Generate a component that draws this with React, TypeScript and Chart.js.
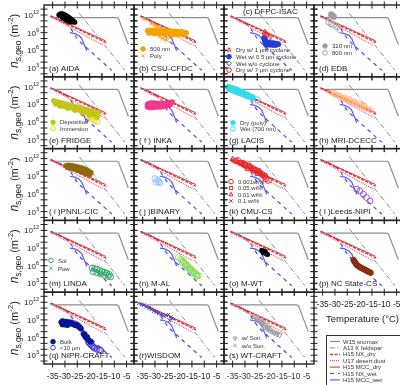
import React, { useEffect, useRef } from 'react';
import { Chart, registerables } from 'chart.js';
import { drawPoint } from 'chart.js/helpers';

Chart.register(...registerables);

const FONT = '"Liberation Sans", Arial, Helvetica, sans-serif';

// Axis ranges shared by every panel
const T_MIN = -38.5;
const T_MAX = -2;
const LOG_MIN = 1.5;
const LOG_MAX = 13.7;
const X_TICKS = [-35, -30, -25, -20, -15, -10, -5];
const Y_DECADES = [2, 3, 4, 5, 6, 7, 8, 9, 10, 11, 12, 13];
const Y_LABELED = [3, 6, 9, 12];

// Reference parameterisations (temperature in °C, log10 ns in m^-2)
const snomaxT = [-35.8, -9.0, -8.3, -4.3];
const snomaxLog = [11.55, 11.55, 11.4, 7.0];
const feldsparT = [-24.2, -5.7];
const feldsparLog = [12.3, 2.6];
const nxDryT = [-35.8, -13.3];
const nxDryLog = [11.8, 7.3];
const u17T = [-35.8, -14.8];
const u17Log = [11.7, 6.9];
const mccDryT = [-35.8, -13.5];
const mccDryLog = [11.85, 7.6];
const nxWetT = [-35.8, -33, -31, -29, -27.5, -26, -24.5, -22.5, -20, -17.5, -15, -13, -11];
const nxWetLog = [11.8, 11.4, 10.9, 10.4, 9.6, 8.6, 7.7, 6.9, 6.0, 5.0, 4.1, 3.3, 2.6];
const mccWetT = [-28, -26, -24.3, -23.2, -22.5, -21.8, -21.2];
const mccWetLog = [9.0, 8.85, 8.5, 8.0, 7.3, 6.6, 5.9];

// Instrument data
const aidaT = [-32.5, -32, -31.5, -31, -30.5, -30, -29.5, -29, -28.5, -28, -27.5, -27, -26.5, -26, -31.8, -31.2, -30.6, -30, -29.4, -28.8, -28.2, -27.6, -27, -30.8, -29.8, -28.8, -27.8];
const aidaLog = [12.0, 12.15, 12.2, 12.2, 12.1, 12.0, 11.9, 11.75, 11.6, 11.45, 11.3, 11.1, 10.95, 10.75, 11.85, 11.75, 11.65, 11.5, 11.4, 11.25, 11.1, 10.95, 10.8, 11.45, 11.2, 11.0, 10.8];

const csu500T = [-33, -32, -31, -30, -29, -28, -27, -26, -25, -24, -23, -22, -21, -20, -19, -18, -17.3, -32.5, -31.5, -30.5, -29.5, -28.5, -27.5, -26.5, -25.5, -24.5, -23.5, -22.5, -21.5, -20.5, -19.5, -18.5];
const csu500Log = [9.35, 9.4, 9.35, 9.4, 9.3, 9.35, 9.3, 9.3, 9.25, 9.3, 9.2, 9.25, 9.2, 9.15, 9.1, 9.0, 8.95, 8.95, 9.0, 8.9, 8.95, 8.9, 8.9, 8.85, 8.9, 8.85, 8.8, 8.85, 8.8, 8.75, 8.8, 8.7];
const csuPolyT = [-34.5, -31.5, -30.5, -29.5, -28.5, -28, -27, -26, -25, -24, -27.5, -26.5, -25.5, -23, -22, -30, -29];
const csuPolyLog = [11.3, 10.5, 10.4, 10.0, 9.8, 8.3, 8.0, 7.8, 7.7, 8.2, 9.7, 8.4, 9.6, 8.3, 8.5, 10.2, 8.6];

const dfpcDry1T = [-22, -21.2];
const dfpcDry1Log = [9.1, 8.7];
const dfpcWet05T = [-22.2, -22, -21.8, -21.5, -21, -20.5, -20, -19.5, -19, -18.5, -18, -17.5, -17, -16.5, -21.5, -20.5, -19.5, -18.5, -17.5];
const dfpcWet05Log = [8.1, 7.8, 7.5, 7.4, 7.3, 7.3, 7.25, 7.2, 7.2, 7.15, 7.15, 7.1, 7.1, 7.05, 7.0, 6.95, 6.95, 6.9, 6.9];
const dfpcWetNoT = [-21.6];
const dfpcWetNoLog = [7.0];
const dfpcDry7T = [-21.5, -20.6];
const dfpcDry7Log = [8.5, 8.2];

const edb320T = [-31.5, -31, -30.5];
const edb320Log = [12.1, 11.9, 11.7];
const edb800T = [-32.5, -31.5, -30.5, -29.2, -28];
const edb800Log = [10.8, 10.5, 10.3, 10.0, 9.5];

const fridgeDepT = [-34.5, -33, -31.5, -30, -28.5, -27, -25.5, -24, -22.5, -21, -19.5, -18, -16.5, -33.75, -32.25, -30.75, -29.25, -27.75, -26.25, -24.75, -23.25, -21.75, -20.25, -18.75, -17.25, -32, -29, -26, -23, -20, -17];
const fridgeDepLog = [9.6, 9.43, 9.26, 9.09, 8.92, 8.75, 8.58, 8.41, 8.24, 8.07, 7.9, 7.73, 7.57, 9.1, 8.95, 8.8, 8.6, 8.45, 8.25, 8.1, 7.95, 7.75, 7.6, 7.4, 7.25, 8.75, 8.4, 8.05, 7.65, 7.2, 6.9];
const fridgeImmT = [-21.5, -20.5, -19.5, -19, -18, -17.5, -17, -20, -18.5];
const fridgeImmLog = [7.9, 7.4, 7.0, 6.6, 6.3, 6.8, 6.1, 6.9, 7.4];

const inkaT = [-33, -32.5, -32, -31.5, -31, -30.5, -30, -29, -28, -27, -26, -25, -24, -23, -33, -32, -31, -30, -29, -28, -27, -26, -25, -24, -32.5, -31.5, -30.5];
const inkaLog = [9.0, 9.1, 9.15, 9.2, 9.2, 9.2, 9.2, 9.15, 9.15, 9.1, 9.1, 9.2, 9.3, 9.4, 8.6, 8.5, 8.5, 8.55, 8.6, 8.6, 8.65, 8.7, 8.8, 8.9, 8.8, 8.8, 8.85];

const lacisDryT = [-37, -36.5, -36, -35.5, -35, -34.5, -34, -33.5, -33, -32.5, -32, -31.5, -31, -30.5, -30, -29.5, -29, -28.5, -28, -27.5, -27, -36.5, -35.5, -34.5, -33.5, -32.5, -31.5, -30.5, -29.5, -28.5];
const lacisDryLog = [12.0, 11.95, 11.9, 11.8, 11.75, 11.7, 11.6, 11.5, 11.4, 11.3, 11.2, 11.1, 11.0, 10.9, 10.8, 10.7, 10.6, 10.5, 10.4, 10.3, 10.2, 11.6, 11.45, 11.3, 11.1, 10.95, 10.8, 10.65, 10.45, 10.3];
const lacisWetT = [-33, -31, -29, -27, -25];
const lacisWetLog = [11.4, 11.0, 10.6, 10.2, 9.8];

const mriT = [-31.5, -30.5, -29.5, -28.5, -27.5, -26.5, -25.5, -24.5, -23.5, -22.5, -21.5, -20.5, -19.5, -18.5, -17.5, -16.5, -15.5, -30, -28, -26, -24, -22, -20, -18];
const mriLog = [11.0, 10.8, 10.6, 10.4, 10.2, 10.0, 9.85, 9.7, 9.5, 9.3, 9.1, 8.9, 8.75, 8.55, 8.35, 8.2, 8.0, 10.9, 10.5, 10.2, 9.9, 9.5, 9.2, 8.8];

const pnnlT = [-29.5, -28.5, -27.5, -26.5, -25.5, -24.5, -23.5, -22.5, -21.5, -20.5, -19.5, -29, -28, -27, -26, -25, -24, -23, -22, -21, -20, -28, -26, -24, -22];
const pnnlLog = [10.8, 10.85, 10.8, 10.75, 10.65, 10.55, 10.45, 10.3, 10.1, 9.9, 9.65, 10.5, 10.4, 10.3, 10.2, 10.1, 9.95, 9.8, 9.6, 9.45, 9.3, 10.6, 10.45, 10.2, 9.9];

const binaryT = [-30, -29, -28.5, -28, -29.5];
const binaryLog = [8.6, 8.4, 8.1, 7.9, 8.0];

const cmu0001T = [-33, -31, -29, -27, -25, -23, -21.5, -20.5, -30, -26, -22];
const cmu0001Log = [11.7, 11.2, 10.8, 10.3, 9.9, 9.3, 8.6, 8.3, 10.9, 10.0, 9.0];
const cmu005T = [-34, -32, -30, -28, -26, -24, -22, -29, -25];
const cmu005Log = [11.6, 11.3, 10.9, 10.6, 10.1, 9.6, 9.1, 10.3, 9.5];
const cmu001T = [-35, -33, -31, -29, -27, -25, -23, -28, -24];
const cmu001Log = [11.9, 11.5, 11.1, 10.7, 10.2, 9.8, 9.4, 10.8, 9.9];
const cmu01T = [-34.5, -32.5, -30.5, -28.5, -26.5, -24.5, -22.5, -31, -27];
const cmu01Log = [11.7, 11.4, 11.0, 10.5, 10.3, 9.7, 9.2, 11.3, 10.6];

const leedsT = [-21.2, -19.9, -18.5, -17.2, -15.8];
const leedsLog = [6.8, 6.5, 5.95, 5.4, 4.8];

const lindaSolT = [-19, -18, -17, -16, -15, -14, -13, -12, -18.5, -17, -15.5, -14, -12.5, -11.5];
const lindaSolLog = [5.6, 5.5, 5.4, 5.2, 5.0, 4.9, 4.7, 4.5, 5.0, 4.8, 4.6, 4.4, 4.2, 4.1];
const lindaPowT = [-16.5, -14.5];
const lindaPowLog = [5.1, 4.7];

const malT = [-20.5, -19.5, -18.5, -18, -17.5, -17, -16.5, -16, -15.5, -15, -14.5, -14, -13.5, -13, -12.5, -19, -17.5, -16, -14.5, -13];
const malLog = [7.4, 7.1, 6.8, 6.5, 6.3, 6.0, 5.8, 5.6, 5.4, 5.2, 5.0, 4.8, 4.6, 4.4, 4.3, 6.6, 6.0, 5.3, 4.7, 4.2];

const mwtT = [-23.2, -22.8, -22.4, -22, -21.6, -21.2, -20.8, -22.6, -21.8];
const mwtLog = [8.6, 8.5, 8.4, 8.3, 8.1, 8.0, 7.9, 8.2, 8.45];

const ncsuT = [-22.5, -22.2, -21.9, -21.6, -21.3, -21, -20.6, -20.2, -19.8, -19.4, -19, -18.5, -18, -17.5, -17, -16.5, -16, -15.5];
const ncsuLog = [7.0, 6.8, 6.6, 6.4, 6.25, 6.1, 5.95, 5.85, 5.75, 5.65, 5.55, 5.45, 5.35, 5.25, 5.1, 5.0, 4.9, 4.8];

const niprBulkT = [-31.5, -31, -30.5, -30, -29.5, -29, -28.5, -28, -27.5, -27, -26.5, -26, -25.5, -25, -24.5, -24, -23.5, -31, -30, -29, -22.5, -22, -21.5, -21, -20.5, -20, -19.5, -22, -21];
const niprBulkLog = [8.6, 8.8, 8.7, 8.6, 8.7, 8.5, 8.6, 8.4, 8.5, 8.3, 8.3, 8.1, 8.2, 8.0, 7.9, 7.7, 7.5, 8.2, 8.2, 8.1, 6.6, 6.3, 6.0, 5.8, 5.6, 5.4, 5.3, 6.6, 6.1];
const niprFineT = [-20.5, -20, -19.5, -19, -18.5, -18, -17, -16, -15.5];
const niprFineLog = [5.3, 5.0, 4.8, 4.6, 4.4, 4.2, 4.0, 3.9, 3.8];

const wisdomT = [-36.5, -35.5, -34.5, -33.5, -32.5, -31.5, -30.5, -29.5, -28.5, -27.5, -26.5, -25.5, -24.5, -23.5, -23, -24];
const wisdomLog = [11.8, 11.6, 11.5, 11.2, 11.0, 10.8, 10.5, 10.3, 10.1, 9.9, 9.7, 9.8, 9.9, 9.5, 9.2, 8.9];

const wtSonT = [-26, -25, -24, -23.5, -23, -22, -21, -20, -19, -18, -17, -16, -22.5, -21.5, -20.5];
const wtSonLog = [9.5, 9.2, 8.9, 8.5, 8.2, 7.8, 7.5, 7.2, 7.0, 6.8, 6.6, 6.4, 8.6, 8.1, 7.6];
const wtNoSonT = [-25.5, -24.5, -23, -21, -19.5, -17.5];
const wtNoSonLog = [9.0, 8.7, 8.3, 7.6, 7.1, 6.7];

// Page layout of the panel grid
const COL_X = [44, 134, 224, 314];
const ROW_Y = [5, 76.8, 148.6, 220.4, 292.2];
const PANEL_W = 90;
const PANEL_H = 71.8;
const CANVAS_W = 420;
const CANVAS_H = 385;

type Series = {
  T: number[];
  L: number[];
  color: string;
  shape: string;
  filled: boolean;
  r: number;
  rot?: number;
};
type LegendRow = { text: string; color: string; shape: string; filled: boolean; rot?: number };
type Panel = {
  title: string;
  col: number;
  row: number;
  titleTop?: boolean;
  titleDx?: number;
  series: Series[];
  legend?: LegendRow[];
  legendX?: number;
  legendY?: number;
  legendGap?: number;
};

const RED = '#e8262a';
const refLines = [
  { T: snomaxT, L: snomaxLog, color: '#8e8e8e', width: 1.2, dash: [] as number[] },
  { T: feldsparT, L: feldsparLog, color: '#8e8e8e', width: 1, dash: [5, 2, 1, 2] },
  { T: nxDryT, L: nxDryLog, color: RED, width: 1.3, dash: [3, 1.5] },
  { T: u17T, L: u17Log, color: RED, width: 1, dash: [1, 1] },
  { T: mccDryT, L: mccDryLog, color: RED, width: 1, dash: [] as number[] },
  { T: nxWetT, L: nxWetLog, color: '#4a4ae8', width: 1.2, dash: [4, 4] },
  { T: mccWetT, L: mccWetLog, color: '#5a5aff', width: 1.2, dash: [] as number[] },
];

const PANELS: Panel[] = [
  { title: '(a) AIDA', col: 0, row: 0, series: [{ T: aidaT, L: aidaLog, color: '#000', shape: 'circle', filled: true, r: 2.3 }] },
  {
    title: '(b) CSU-CFDC', col: 1, row: 0,
    series: [
      { T: csu500T, L: csu500Log, color: '#f5a300', shape: 'circle', filled: true, r: 2.5 },
      { T: csuPolyT, L: csuPolyLog, color: '#f5a300', shape: 'crossRot', filled: false, r: 2.5 },
    ],
    legend: [
      { text: '500 nm', color: '#f5a300', shape: 'circle', filled: true },
      { text: 'Poly', color: '#f5a300', shape: 'crossRot', filled: false },
    ],
    legendX: 9, legendY: 44, legendGap: 6.8,
  },
  {
    title: '(c) DFPC-ISAC', col: 2, row: 0, titleTop: true, titleDx: 19,
    series: [
      { T: dfpcDry1T, L: dfpcDry1Log, color: RED, shape: 'triangle', filled: false, r: 3 },
      { T: dfpcWet05T, L: dfpcWet05Log, color: '#1f3cd6', shape: 'circle', filled: true, r: 2.6 },
      { T: dfpcWetNoT, L: dfpcWetNoLog, color: '#4b3bd0', shape: 'rectRot', filled: false, r: 3 },
      { T: dfpcDry7T, L: dfpcDry7Log, color: RED, shape: 'circle', filled: false, r: 3 },
    ],
    legend: [
      { text: 'Dry w/ 1 µm cyclone', color: RED, shape: 'triangle', filled: false },
      { text: 'Wet w/ 0.5 µm cyclone', color: '#1f3cd6', shape: 'circle', filled: true },
      { text: 'Wet w/o cyclone', color: '#3b3bd8', shape: 'rectRot', filled: false },
      { text: 'Dry w/ 7 µm cyclone', color: RED, shape: 'circle', filled: false },
    ],
    legendX: 5, legendY: 45, legendGap: 6.7,
  },
  {
    title: '(d) EDB', col: 3, row: 0,
    series: [
      { T: edb320T, L: edb320Log, color: '#a0a0a0', shape: 'circle', filled: true, r: 3 },
      { T: edb800T, L: edb800Log, color: '#a8a8a8', shape: 'circle', filled: false, r: 3 },
    ],
    legend: [
      { text: '320 nm', color: '#a0a0a0', shape: 'circle', filled: true },
      { text: '800 nm', color: '#a8a8a8', shape: 'circle', filled: false },
    ],
    legendX: 11, legendY: 41, legendGap: 6.8,
  },
  {
    title: '(e) FRIDGE', col: 0, row: 1,
    series: [
      { T: fridgeDepT, L: fridgeDepLog, color: '#c6c41a', shape: 'circle', filled: true, r: 2.6 },
      { T: fridgeImmT, L: fridgeImmLog, color: '#e3e000', shape: 'circle', filled: false, r: 3 },
    ],
    legend: [
      { text: 'Deposition', color: '#c6c41a', shape: 'circle', filled: true },
      { text: 'Immersion', color: '#e3e000', shape: 'circle', filled: false },
    ],
    legendX: 9, legendY: 45.5, legendGap: 6.5,
  },
  { title: '( f ) INKA', col: 1, row: 1, series: [{ T: inkaT, L: inkaLog, color: '#f2388f', shape: 'circle', filled: true, r: 2.6 }] },
  {
    title: '(g) LACIS', col: 2, row: 1,
    series: [
      { T: lacisDryT, L: lacisDryLog, color: '#35dbe8', shape: 'circle', filled: true, r: 2.6 },
      { T: lacisWetT, L: lacisWetLog, color: '#35dbe8', shape: 'circle', filled: false, r: 3 },
    ],
    legend: [
      { text: 'Dry (poly)', color: '#35dbe8', shape: 'circle', filled: true },
      { text: 'Wet (700 nm)', color: '#35dbe8', shape: 'circle', filled: false },
    ],
    legendX: 9, legendY: 46, legendGap: 6,
  },
  { title: '(h) MRI-DCECC', col: 3, row: 1, series: [{ T: mriT, L: mriLog, color: '#ffb482', shape: 'circle', filled: false, r: 2.5 }] },
  { title: '( i )PNNL-CIC', col: 0, row: 2, series: [{ T: pnnlT, L: pnnlLog, color: '#8f6a0c', shape: 'circle', filled: true, r: 2.5 }] },
  { title: '( j )BINARY', col: 1, row: 2, series: [{ T: binaryT, L: binaryLog, color: '#8cc4ff', shape: 'circle', filled: false, r: 3 }] },
  {
    title: '(k) CMU-CS', col: 2, row: 2,
    series: [
      { T: cmu0001T, L: cmu0001Log, color: RED, shape: 'circle', filled: false, r: 3 },
      { T: cmu005T, L: cmu005Log, color: RED, shape: 'rect', filled: false, r: 3 },
      { T: cmu001T, L: cmu001Log, color: RED, shape: 'triangle', filled: false, r: 3 },
      { T: cmu01T, L: cmu01Log, color: RED, shape: 'crossRot', filled: false, r: 3 },
    ],
    legend: [
      { text: '0.001wt%', color: RED, shape: 'circle', filled: false },
      { text: '0.05 wt%', color: RED, shape: 'rect', filled: false },
      { text: '0.01 wt%', color: RED, shape: 'triangle', filled: false },
      { text: '0.1 wt%', color: RED, shape: 'crossRot', filled: false },
    ],
    legendX: 7, legendY: 33, legendGap: 6.5,
  },
  { title: '( l )Leeds-NIPI', col: 3, row: 2, series: [{ T: leedsT, L: leedsLog, color: '#9a5ad6', shape: 'circle', filled: false, r: 3 }] },
  {
    title: '(m) LINDA', col: 0, row: 3,
    series: [
      { T: lindaSolT, L: lindaSolLog, color: '#2fa868', shape: 'circle', filled: false, r: 3 },
      { T: lindaPowT, L: lindaPowLog, color: '#2fa868', shape: 'crossRot', filled: false, r: 3 },
    ],
    legend: [
      { text: 'Sol', color: '#2fa868', shape: 'circle', filled: false },
      { text: 'Pow', color: '#2fa868', shape: 'crossRot', filled: false },
    ],
    legendX: 7, legendY: 40, legendGap: 8,
  },
  { title: '(n) M-AL', col: 1, row: 3, series: [{ T: malT, L: malLog, color: '#8fdc5a', shape: 'circle', filled: false, r: 3 }] },
  { title: '(o) M-WT', col: 2, row: 3, series: [{ T: mwtT, L: mwtLog, color: '#000', shape: 'circle', filled: true, r: 2.3 }] },
  { title: '(p) NC State-CS', col: 3, row: 3, series: [{ T: ncsuT, L: ncsuLog, color: '#8a2f10', shape: 'circle', filled: true, r: 2.8 }] },
  {
    title: '(q) NIPR-CRAFT', col: 0, row: 4,
    series: [
      { T: niprBulkT, L: niprBulkLog, color: '#0a1496', shape: 'circle', filled: true, r: 2.6 },
      { T: niprFineT, L: niprFineLog, color: '#3a3ad2', shape: 'circle', filled: false, r: 3 },
    ],
    legend: [
      { text: 'Bulk', color: '#0a1496', shape: 'circle', filled: true },
      { text: '<10 µm', color: '#3a3ad2', shape: 'circle', filled: false },
    ],
    legendX: 9, legendY: 49.5, legendGap: 6,
  },
  { title: '(r)WISDOM', col: 1, row: 4, series: [{ T: wisdomT, L: wisdomLog, color: '#2b3fd8', shape: 'crossRot', filled: false, r: 2.4 }] },
  {
    title: '(s) WT-CRAFT', col: 2, row: 4,
    series: [
      { T: wtSonT, L: wtSonLog, color: '#9a9a9a', shape: 'triangle', filled: false, r: 3, rot: 180 },
      { T: wtNoSonT, L: wtNoSonLog, color: '#9a9a9a', shape: 'crossRot', filled: false, r: 2.6 },
    ],
    legend: [
      { text: 'w/ Son.', color: '#9a9a9a', shape: 'triangle', filled: false, rot: 180 },
      { text: 'w/o Son.', color: '#9a9a9a', shape: 'crossRot', filled: false },
    ],
    legendX: 11, legendY: 46, legendGap: 7.4,
  },
];

const LEGEND_ITEMS = [
  { text: 'W15 snomax', line: 0 },
  { text: 'A13 K feldspar', line: 1 },
  { text: 'H15 NX_dry', line: 2 },
  { text: 'U17 desert dust', line: 3 },
  { text: 'H15 MCC_dry', line: 4 },
  { text: 'H15 NX_wet', line: 5 },
  { text: 'H15 MCC_wet', line: 6 },
];

type Run = { t: string; size: number; dy: number; italic?: boolean };

// Draws mixed-size text runs (sub/superscripts) starting at x along a baseline y
function drawRuns(ctx: CanvasRenderingContext2D, runs: Run[], x: number, y: number) {
  let cx = x;
  for (const r of runs) {
    ctx.font = `${r.italic ? 'italic ' : ''}${r.size}px ${FONT}`;
    ctx.fillText(r.t, cx, y + r.dy);
    cx += ctx.measureText(r.t).width;
  }
  return cx - x;
}
function runsWidth(ctx: CanvasRenderingContext2D, runs: Run[]) {
  let w = 0;
  for (const r of runs) {
    ctx.font = `${r.italic ? 'italic ' : ''}${r.size}px ${FONT}`;
    w += ctx.measureText(r.t).width;
  }
  return w;
}

const panelDecor = {
  id: 'panelDecor',
  afterDraw(chart: any, _args: any, opts: any) {
    const panel: Panel = opts.panel;
    const { ctx, chartArea: a } = chart;
    const xs = chart.scales.x;
    const ys = chart.scales.y;
    ctx.save();
    ctx.fillStyle = '#1a1a1a';
    ctx.strokeStyle = '#222';

    // tick marks crossing every side of the frame
    ctx.lineWidth = 1;
    ctx.beginPath();
    for (const t of X_TICKS) {
      const px = xs.getPixelForValue(t);
      ctx.moveTo(px, a.top - 3.5);
      ctx.lineTo(px, a.top + 3.5);
      ctx.moveTo(px, a.bottom - 3.5);
      ctx.lineTo(px, a.bottom + 3.5);
    }
    for (const k of Y_DECADES) {
      const py = ys.getPixelForValue(Math.pow(10, k));
      ctx.moveTo(a.left - 3.5, py);
      ctx.lineTo(a.left + 3.5, py);
      ctx.moveTo(a.right - 3.5, py);
      ctx.lineTo(a.right + 3.5, py);
    }
    ctx.stroke();
    ctx.lineWidth = 1.4;
    ctx.strokeRect(a.left, a.top, a.right - a.left, a.bottom - a.top);

    // panel title
    ctx.font = `8px ${FONT}`;
    ctx.textBaseline = 'alphabetic';
    ctx.textAlign = 'left';
    if (panel.titleTop) {
      ctx.fillText(panel.title, a.left + (panel.titleDx || 5), a.top + 9);
    } else {
      ctx.fillText(panel.title, a.left + 5 + (panel.titleDx || 0), a.bottom - 6);
    }

    // in-panel legend
    if (panel.legend) {
      panel.legend.forEach((row, i) => {
        const y = a.top + (panel.legendY || 0) + i * (panel.legendGap || 6.5);
        const x = a.left + (panel.legendX || 8);
        ctx.save();
        ctx.fillStyle = row.filled ? row.color : 'rgba(0,0,0,0)';
        ctx.strokeStyle = row.color;
        ctx.lineWidth = 1;
        drawPoint(ctx, { pointStyle: row.shape as any, radius: 2.3, rotation: row.rot || 0, borderWidth: 1 }, x, y);
        ctx.restore();
        ctx.font = `6px ${FONT}`;
        ctx.textBaseline = 'middle';
        ctx.fillStyle = '#333';
        ctx.fillText(row.text, x + 7, y + 0.5);
      });
    }

    // y tick labels and axis title in the first column
    if (panel.col === 0) {
      ctx.fillStyle = '#1a1a1a';
      ctx.textBaseline = 'alphabetic';
      for (const k of Y_LABELED) {
        const py = ys.getPixelForValue(Math.pow(10, k));
        const runs: Run[] = [
          { t: '10', size: 8, dy: 0 },
          { t: String(k), size: 5.5, dy: -4 },
        ];
        const w = runsWidth(ctx, runs);
        drawRuns(ctx, runs, a.left - 5 - w, py + 3);
      }
      const title: Run[] = [
        { t: 'n', size: 12, dy: 0, italic: true },
        { t: 's,geo', size: 8.5, dy: 2.5 },
        { t: ' (m', size: 11, dy: 0 },
        { t: '-2', size: 8, dy: -5 },
        { t: ')', size: 11, dy: 0 },
      ];
      const tw = runsWidth(ctx, title);
      ctx.save();
      ctx.translate(18, (a.top + a.bottom) / 2);
      ctx.rotate(-Math.PI / 2);
      drawRuns(ctx, title, -tw / 2, 0);
      ctx.restore();
    }

    // x tick labels below the bottom panels
    if (panel.row === 4 || (panel.col === 3 && panel.row === 3)) {
      ctx.font = `8.3px ${FONT}`;
      ctx.textAlign = 'center';
      ctx.textBaseline = 'middle';
      for (const t of X_TICKS) {
        ctx.fillText(String(t), xs.getPixelForValue(t), a.bottom + 13);
      }
    }

    // axis name and line key under the last column
    if (panel.col === 3 && panel.row === 3) {
      ctx.textAlign = 'left';
      ctx.textBaseline = 'middle';
      ctx.font = `9.5px ${FONT}`;
      ctx.fillText('Temperature (°C)', 326, 319);
      ctx.lineWidth = 1;
      ctx.strokeStyle = '#333';
      ctx.strokeRect(326.5, 335.5, 90, 60);
      LEGEND_ITEMS.forEach((it, i) => {
        const ln = refLines[it.line];
        const y = 341.5 + i * 6.4;
        ctx.save();
        ctx.strokeStyle = ln.color;
        ctx.lineWidth = ln.width;
        ctx.setLineDash(ln.dash);
        ctx.beginPath();
        ctx.moveTo(330, y);
        ctx.lineTo(340, y);
        ctx.stroke();
        ctx.restore();
        ctx.font = `6px ${FONT}`;
        ctx.fillStyle = '#333';
        ctx.fillText(it.text, 343, y + 0.5);
      });
    }
    ctx.restore();
  },
};

function buildConfig(panel: Panel): any {
  const left = COL_X[panel.col];
  const top = ROW_Y[panel.row];
  const dataSets: any[] = [];
  panel.series.forEach((s) => {
    dataSets.push({
      data: s.T.map((t, i) => ({ x: t, y: Math.pow(10, s.L[i]) })),
      pointStyle: s.shape,
      pointRadius: s.r,
      pointRotation: s.rot || 0,
      pointBackgroundColor: s.filled ? s.color : 'rgba(0,0,0,0)',
      pointBorderColor: s.color,
      pointBorderWidth: s.filled ? 0.6 : 1,
      showLine: false,
      order: 0,
    });
  });
  refLines.forEach((ln) => {
    dataSets.push({
      data: ln.T.map((t, i) => ({ x: t, y: Math.pow(10, ln.L[i]) })),
      showLine: true,
      borderColor: ln.color,
      borderWidth: ln.width,
      borderDash: ln.dash,
      pointRadius: 0,
      tension: 0,
      fill: false,
      order: 1,
    });
  });
  return {
    type: 'scatter',
    data: { datasets: dataSets },
    options: {
      responsive: false,
      maintainAspectRatio: false,
      animation: false,
      devicePixelRatio: 1,
      events: [],
      layout: {
        padding: {
          left,
          top,
          right: CANVAS_W - left - PANEL_W,
          bottom: CANVAS_H - top - PANEL_H,
        },
      },
      scales: {
        x: { type: 'linear', min: T_MIN, max: T_MAX, display: false },
        y: { type: 'logarithmic', min: Math.pow(10, LOG_MIN), max: Math.pow(10, LOG_MAX), display: false },
      },
      plugins: {
        legend: { display: false },
        tooltip: { enabled: false },
        panelDecor: { panel },
      },
    },
    plugins: [panelDecor],
  };
}

export default function App() {
  const refs = useRef<(HTMLCanvasElement | null)[]>([]);

  useEffect(() => {
    const charts: Chart[] = [];
    PANELS.forEach((p, i) => {
      const cv = refs.current[i];
      if (cv) charts.push(new Chart(cv, buildConfig(p)));
    });
    return () => charts.forEach((c) => c.destroy());
  }, []);

  return (
    <div style={{ position: 'fixed', left: 0, top: 0, width: 400, height: 385, overflow: 'hidden', background: '#fff' }}>
      {PANELS.map((p, i) => (
        <canvas
          key={p.title}
          ref={(el) => {
            refs.current[i] = el;
          }}
          width={CANVAS_W}
          height={CANVAS_H}
          style={{ position: 'absolute', left: 0, top: 0, width: CANVAS_W, height: CANVAS_H }}
        />
      ))}
    </div>
  );
}
